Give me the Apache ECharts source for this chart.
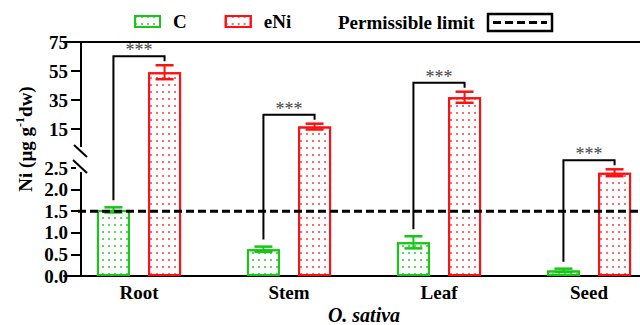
<!DOCTYPE html>
<html><head><meta charset="utf-8">
<script src="https://cdn.jsdelivr.net/npm/echarts@6/dist/echarts.min.js"></script>
<style>html,body{margin:0;padding:0;background:#fff}#c{width:640px;height:325px}</style>
</head><body><div id="c"></div>
<script>
// ---- data ----
const categories = ['Root', 'Stem', 'Leaf', 'Seed'];
const cValues = [1.53, 0.62, 0.78, 0.13];
const cErrors = [0.06, 0.06, 0.14, 0.04];
const eNiValues = [54.2, 16.8, 37.0, 2.39];
const eNiErrors = [4.8, 2.0, 3.8, 0.08];
const permissibleLimit = 1.5;
const lowerTicks = [0, 0.5, 1.0, 1.5, 2.0, 2.5];
const upperTicks = [15, 35, 55, 75];
const significance = ['***', '***', '***', '***'];
const LOWER_MAX = 2.5;

// ---- style ----
const FONT = 'Liberation Serif';
const GREEN = '#16c716', RED = '#ff1010';
const BAR_W = 33, GAP = 0.55;

const lowOnly = a => a.map(v => v <= LOWER_MAX ? v : '-');
const highOnly = a => a.map(v => v > LOWER_MAX ? v : '-');

function barSeries(name, data, color, dot, gi) {
  return {
    type: 'bar', name, data, xAxisIndex: gi, yAxisIndex: gi,
    barWidth: BAR_W, barGap: (GAP * 100) + '%',
    itemStyle: {
      color: '#fff', borderColor: color, borderWidth: 2,
      decal: { symbol: 'rect', symbolSize: 1, color: dot, dashArrayX: [1.4, 3.6], dashArrayY: [1.4, 4.6] }
    },
    emphasis: { disabled: true }, silent: true
  };
}

const labelStyle = { fontFamily: FONT, fontWeight: 'bold', fontSize: 19, color: '#000' };
const axisLine = { show: true, onZero: false, lineStyle: { color: '#000', width: 2 } };

const chart = echarts.init(document.getElementById('c'), null, { renderer: 'svg' });
const option = {
  animation: false,
  backgroundColor: '#fff',
  legend: {
    data: ['C', 'eNi'], left: 129, top: 7, icon: 'rect', itemWidth: 25, itemHeight: 11,
    itemGap: 38, selectedMode: false,
    textStyle: Object.assign({ padding: [0, 0, 0, 8] }, labelStyle)
  },
  grid: [
    { left: 64, width: 600, top: 168, height: 108, outerBoundsMode: 'none', containLabel: false },
    { left: 64, width: 600, top: 42, height: 234, outerBoundsMode: 'none', containLabel: false }
  ],
  xAxis: [
    { type: 'category', gridIndex: 0, data: categories, axisLine, axisTick: { show: false },
      axisLabel: Object.assign({ margin: 7 }, labelStyle),
      name: 'O. sativa', nameLocation: 'middle', nameGap: 29,
      nameTextStyle: { fontFamily: FONT, fontWeight: 'bold', fontStyle: 'italic', fontSize: 20, color: '#000' } },
    { type: 'category', gridIndex: 1, data: categories, position: 'top', axisLine,
      axisTick: { show: false }, axisLabel: { show: false } }
  ],
  yAxis: [
    { type: 'value', gridIndex: 0, min: 0, max: 2.5, interval: 0.5, offset: -17, axisLine,
      axisTick: { show: true, length: 10, lineStyle: { width: 2, color: '#000' }, customValues: lowerTicks },
      axisLabel: Object.assign({ margin: 13, customValues: lowerTicks, formatter: v => v.toFixed(1) }, labelStyle),
      splitLine: { show: false } },
    { type: 'value', gridIndex: 1, min: -86, max: 75, startValue: -86, offset: -17, axisLine,
      axisTick: { show: true, length: 10, lineStyle: { width: 2, color: '#000' }, customValues: upperTicks },
      axisLabel: Object.assign({ margin: 13, customValues: upperTicks }, labelStyle),
      splitLine: { show: false } }
  ],
  series: [
    barSeries('C', lowOnly(cValues), GREEN, '#5fd85f', 0),
    barSeries('eNi', lowOnly(eNiValues), RED, '#ff6a6a', 0),
    barSeries('C', highOnly(cValues), GREEN, '#5fd85f', 1),
    barSeries('eNi', highOnly(eNiValues), RED, '#ff6a6a', 1)
  ]
};
chart.setOption(option);

// ---- overlays computed through the axes' scales ----
function yPix(v) {
  const g = v > LOWER_MAX ? 1 : 0;
  return chart.convertToPixel({ xAxisIndex: g, yAxisIndex: g }, [0, v])[1];
}
function xPix(i) { return chart.convertToPixel({ xAxisIndex: 0, yAxisIndex: 0 }, [i, 0])[0]; }
const off = BAR_W * (1 + GAP) / 2;
const g = [];
function line(x1, y1, x2, y2, stroke, w, dash) {
  g.push({ type: 'line', z: 50, silent: true, shape: { x1, y1, x2, y2 },
    style: { stroke, lineWidth: w, lineDash: dash || null } });
}
function errBar(x, v, e, color) {
  const yt = yPix(v + e), yb = yPix(v - e);
  line(x, yt, x, yb, color, 2);
  line(x - 9, yt, x + 9, yt, color, 2.5);
  line(x - 9, yb, x + 9, yb, color, 2.5);
}
categories.forEach((c, i) => {
  const cx = xPix(i);
  errBar(cx - off, cValues[i], cErrors[i], GREEN);
  errBar(cx + off, eNiValues[i], eNiErrors[i], RED);
  const yC = yPix(cValues[i] + cErrors[i]);
  const yE = yPix(eNiValues[i] + eNiErrors[i]);
  const yTop = yE - 9;
  g.push({ type: 'polyline', z: 50, silent: true,
    shape: { points: [[cx - off, yC - 7], [cx - off, yTop], [cx + off, yTop], [cx + off, yE - 4]] },
    style: { stroke: '#000', lineWidth: 2, fill: null } });
  g.push({ type: 'text', z: 50, silent: true, x: cx, y: yTop + 3,
    style: { text: significance[i], align: 'center', verticalAlign: 'bottom',
      fontFamily: FONT, fontSize: 18, fill: '#444' } });
});
// permissible limit
const yL = yPix(permissibleLimit);
line(78, yL, 640, yL, '#000', 3, [8, 4]);
// axis break
g.push({ type: 'rect', z: 60, silent: true, shape: { x: 76, y: 147, width: 10, height: 25 }, style: { fill: '#fff' } });
line(74, 145, 87, 157, '#000', 2);
line(73, 160, 87, 173, '#000', 2);
g[g.length - 1].z = 61; g[g.length - 2].z = 61;
// y-axis title
g.push({ type: 'text', z: 50, silent: true, x: 25, y: 139, rotation: Math.PI / 2,
  style: { text: '{a|Ni (µg g}{s|-1}{a|dw)}', align: 'center', verticalAlign: 'middle',
    rich: { a: { fontFamily: FONT, fontWeight: 'bold', fontSize: 19, fill: '#000', lineHeight: 22 },
            s: { fontFamily: FONT, fontWeight: 'bold', fontSize: 12, fill: '#000', lineHeight: 22, verticalAlign: 'top' } } } });
// permissible limit legend entry
g.push({ type: 'text', z: 50, silent: true, x: 338, y: 22,
  style: { text: 'Permissible limit', align: 'left', verticalAlign: 'middle',
    fontFamily: FONT, fontWeight: 'bold', fontSize: 19, fill: '#000' } });
g.push({ type: 'rect', z: 50, silent: true, shape: { x: 488, y: 14, width: 64, height: 17 },
  style: { fill: '#fff', stroke: '#000', lineWidth: 2.5 } });
line(493, 22.5, 547, 22.5, '#000', 3, [8, 4]);

chart.setOption({ graphic: g });
</script></body></html>
